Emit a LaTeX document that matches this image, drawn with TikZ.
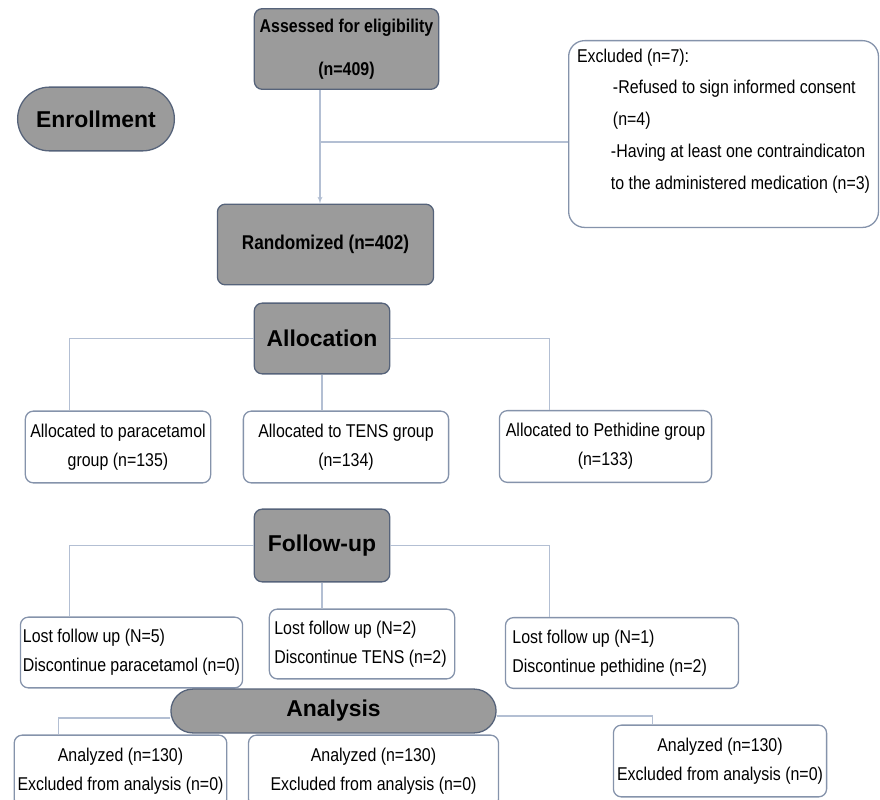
\documentclass[tikz,border=0pt]{standalone}
\usepackage{fontspec}
\setmainfont{Liberation Sans}
\newfontfamily\narrowfont[FakeStretch=0.86]{Liberation Sans}
\usepackage{tikz}
\usetikzlibrary{shapes,arrows,positioning,calc}
\definecolor{boxgray}{HTML}{9B9B9B}
\definecolor{darkedge}{HTML}{56637A}
\definecolor{lightedge}{HTML}{8593AB}
\definecolor{linkblue}{HTML}{B3BFD3}

\begin{document}
\begin{tikzpicture}[x=1bp, y=-1bp,
  phase/.style={draw=darkedge, fill=boxgray, rounded rectangle, line width=1.3pt,
                font=\fontsize{23}{28}\selectfont\bfseries},
  graybox/.style={draw=darkedge, fill=boxgray, rounded corners=8pt, line width=1.3pt,
                align=center, font=\narrowfont\bfseries\fontsize{18.6}{43}\selectfont},
  stage/.style={graybox, font=\fontsize{23}{28}\selectfont\bfseries},
  whitebox/.style={draw=lightedge, fill=white, rounded corners=8pt, line width=1.3pt,
                minimum height=72, font=\narrowfont\fontsize{18.6}{29}\selectfont},
  lostbox/.style={whitebox, align=flush left, minimum height=71},
  link/.style={draw=linkblue, line width=1.3pt},
  arr/.style={link, -latex'}
]
\useasboundingbox (0,0) rectangle (880,800);

\node[phase, minimum width=164, minimum height=64] (enroll) at (96,119) {Enrollment};
\node[graybox, minimum width=185, minimum height=81] (assess) at (346.5,49) {Assessed for eligibility\\(n=409)};
\node[graybox, minimum width=217, minimum height=81, font=\narrowfont\bfseries\fontsize{20}{24}\selectfont] (random) at (325.5,244.5) {Randomized (n=402)};
\node[whitebox, rounded corners=16pt, minimum width=311, anchor=north west, align=left,
      inner xsep=7, inner ysep=8, font=\narrowfont\fontsize{18.6}{32}\selectfont] (excl) at (568,40)
  {Excluded (n=7):\\\hspace*{36pt}-Refused to sign informed consent\\\hspace*{36pt}(n=4)\\
   \hspace*{34pt}-Having at least one contraindicaton\\\hspace*{34pt}to the administered medication (n=3)\rule[-30pt]{0pt}{0pt}};

\node[stage, minimum width=136, minimum height=71] (alloc) at (322,338.5) {Allocation};
\node[whitebox, align=center, minimum width=186] (apara) at (118,447) {Allocated to paracetamol\\group (n=135)};
\node[whitebox, align=center, minimum width=206] (atens) at (346,447) {Allocated to TENS group\\(n=134)};
\node[whitebox, align=center, minimum width=213] (apeth) at (605.5,446.5) {Allocated to Pethidine group\\(n=133)};

\node[stage, minimum width=136, minimum height=73] (fup) at (322,545.5) {Follow-up};
\node[lostbox, text width=218, inner xsep=2.5] (lpara) at (131.5,652.5) {Lost follow up (N=5)\\Discontinue paracetamol (n=0)};
\node[lostbox, text width=176, inner xsep=5, minimum height=70] (ltens) at (362,644) {Lost follow up (N=2)\\Discontinue TENS (n=2)};
\node[lostbox, text width=220, inner xsep=7] (lpeth) at (622,653) {Lost follow up (N=1)\\Discontinue pethidine (n=2)};

\node[whitebox, align=center, minimum width=213] (an1) at (120.5,771) {Analyzed (n=130)\\Excluded from analysis (n=0)};
\node[whitebox, align=center, minimum width=251] (an2) at (373.5,771) {Analyzed (n=130)\\Excluded from analysis (n=0)};
\node[whitebox, align=center, minimum width=214] (an3) at (720,761) {Analyzed (n=130)\\Excluded from analysis (n=0)};
\node[phase, minimum width=333, minimum height=44] (ana) at (333.5,711) {Analysis};

\coordinate (split) at (320,142);
\draw[arr] (assess.south -| split) -- (random.north -| split);
\draw[link] (split) -- (excl.west |- split);

\draw[link] (alloc.west) -| ([xshift=-49]apara.north);
\draw[link] (alloc.east) -| ([xshift=-56.5]apeth.north);
\draw[link] (alloc.south) -- (alloc.south |- atens.north);

\draw[link] (fup.west) -| ([xshift=-62.5]lpara.north);
\draw[link] (fup.east) -| ([xshift=-73]lpeth.north);
\draw[link] (fup.south) -- (fup.south |- ltens.north);

\draw[link] ([yshift=-7]ana.west) -| ([xshift=-62.5]an1.north);
\draw[link] ([yshift=-5]ana.east) -| ([xshift=-68]an3.north);

\end{tikzpicture}
\end{document}
